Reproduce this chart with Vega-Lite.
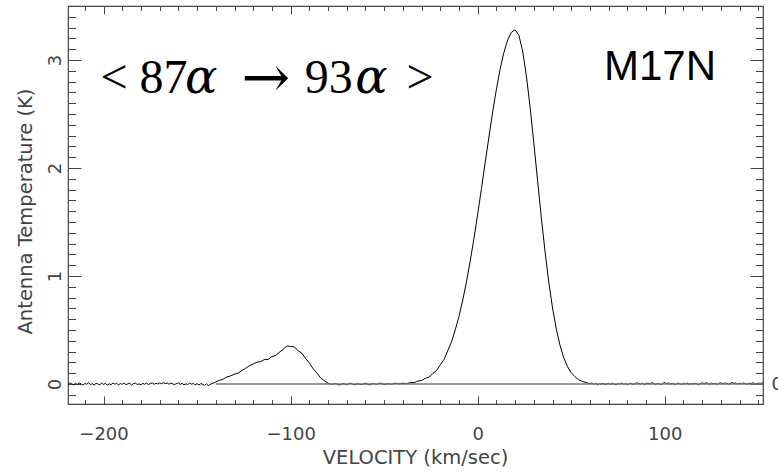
{
  "$schema": "https://vega.github.io/schema/vega-lite/v6.json",
  "autosize": "none",
  "width": 695,
  "height": 398,
  "padding": {"left": 68, "top": 6, "right": 15, "bottom": 68},
  "background": "white",
  "config": {
    "view": {"stroke": "#444", "strokeWidth": 1.2},
    "axis": {
      "domain": false,
      "grid": false,
      "tickColor": "#444",
      "tickWidth": 1,
      "labelFont": "DejaVu Sans",
      "titleFont": "DejaVu Sans",
      "labelColor": "#444",
      "titleColor": "#444",
      "labelFontSize": 18,
      "titleFontSize": 19.5,
      "titleFontWeight": "normal"
    }
  },
  "datasets": {
    "spectrum": [
      {"v": -220, "t": 0.004}, {"v": -219, "t": -0.006}, {"v": -218, "t": 0.010}, {"v": -217, "t": 0.002}, {"v": -216, "t": -0.008},
      {"v": -215, "t": 0.006}, {"v": -214, "t": -0.003}, {"v": -213, "t": 0.009}, {"v": -212, "t": 0.001}, {"v": -211, "t": -0.010},
      {"v": -210, "t": 0.005}, {"v": -209, "t": -0.002}, {"v": -208, "t": 0.011}, {"v": -207, "t": -0.005}, {"v": -206, "t": 0.003},
      {"v": -205, "t": -0.009}, {"v": -204, "t": 0.006}, {"v": -203, "t": 0.000}, {"v": -202, "t": -0.007}, {"v": -201, "t": 0.008},
      {"v": -200, "t": -0.004}, {"v": -199, "t": 0.007}, {"v": -198, "t": -0.011}, {"v": -197, "t": 0.002}, {"v": -196, "t": -0.006},
      {"v": -195, "t": 0.009}, {"v": -194, "t": -0.001}, {"v": -193, "t": 0.005}, {"v": -192, "t": -0.008}, {"v": -191, "t": 0.004},
      {"v": -190, "t": -0.003}, {"v": -189, "t": 0.010}, {"v": -188, "t": -0.006}, {"v": -187, "t": 0.002}, {"v": -186, "t": 0.007},
      {"v": -185, "t": -0.009}, {"v": -184, "t": 0.003}, {"v": -183, "t": 0.008}, {"v": -182, "t": -0.004}, {"v": -181, "t": 0.001},
      {"v": -180, "t": -0.007}, {"v": -179, "t": 0.006}, {"v": -178, "t": -0.002}, {"v": -177, "t": 0.009}, {"v": -176, "t": -0.005},
      {"v": -175, "t": 0.004}, {"v": -174, "t": 0.011}, {"v": -173, "t": -0.003}, {"v": -172, "t": 0.007}, {"v": -171, "t": 0.000},
      {"v": -170, "t": 0.010}, {"v": -169, "t": 0.003}, {"v": -168, "t": 0.012}, {"v": -167, "t": 0.004}, {"v": -166, "t": 0.009},
      {"v": -165, "t": -0.002}, {"v": -164, "t": 0.008}, {"v": -163, "t": 0.001}, {"v": -162, "t": -0.006}, {"v": -161, "t": 0.005},
      {"v": -160, "t": 0.010}, {"v": -159, "t": -0.003}, {"v": -158, "t": 0.006}, {"v": -157, "t": -0.007}, {"v": -156, "t": 0.002},
      {"v": -155, "t": -0.004}, {"v": -154, "t": 0.008}, {"v": -153, "t": -0.001}, {"v": -152, "t": 0.005}, {"v": -151, "t": -0.006},
      {"v": -150, "t": 0.003}, {"v": -149, "t": -0.009}, {"v": -148, "t": 0.004}, {"v": -147, "t": -0.002}, {"v": -146, "t": -0.012},
      {"v": -145, "t": 0.001}, {"v": -144, "t": -0.014}, {"v": -143, "t": -0.004}, {"v": -142, "t": 0.006}, {"v": -141, "t": 0.010},
      {"v": -140, "t": 0.020}, {"v": -138, "t": 0.034}, {"v": -136, "t": 0.046}, {"v": -134, "t": 0.066}, {"v": -132, "t": 0.076},
      {"v": -130, "t": 0.092}, {"v": -128, "t": 0.101}, {"v": -126, "t": 0.126}, {"v": -124, "t": 0.146}, {"v": -122, "t": 0.170},
      {"v": -120, "t": 0.186}, {"v": -118, "t": 0.202}, {"v": -116, "t": 0.207}, {"v": -114, "t": 0.226}, {"v": -112, "t": 0.228},
      {"v": -110, "t": 0.254}, {"v": -108, "t": 0.264}, {"v": -106, "t": 0.294}, {"v": -104, "t": 0.321}, {"v": -102, "t": 0.352},
      {"v": -100, "t": 0.348}, {"v": -98, "t": 0.343}, {"v": -96, "t": 0.308}, {"v": -94, "t": 0.285}, {"v": -92, "t": 0.236},
      {"v": -90, "t": 0.195}, {"v": -88, "t": 0.142}, {"v": -86, "t": 0.103}, {"v": -84, "t": 0.057}, {"v": -82, "t": 0.030},
      {"v": -80, "t": 0.008}, {"v": -78, "t": -0.004}, {"v": -76, "t": 0.005}, {"v": -74, "t": -0.009}, {"v": -72, "t": 0.004},
      {"v": -70, "t": -0.006}, {"v": -68, "t": 0.008}, {"v": -66, "t": -0.007}, {"v": -64, "t": 0.002}, {"v": -62, "t": -0.005},
      {"v": -60, "t": 0.007}, {"v": -58, "t": -0.008}, {"v": -56, "t": 0.004}, {"v": -54, "t": -0.003}, {"v": -52, "t": 0.009},
      {"v": -50, "t": -0.005}, {"v": -48, "t": 0.003}, {"v": -46, "t": -0.002}, {"v": -44, "t": 0.008}, {"v": -42, "t": 0.001},
      {"v": -40, "t": 0.008}, {"v": -38, "t": 0.002}, {"v": -36, "t": 0.014}, {"v": -34, "t": 0.013}, {"v": -32, "t": 0.027},
      {"v": -30, "t": 0.032}, {"v": -28, "t": 0.053}, {"v": -26, "t": 0.063}, {"v": -24, "t": 0.098}, {"v": -22, "t": 0.124},
      {"v": -20, "t": 0.178}, {"v": -18, "t": 0.227}, {"v": -16, "t": 0.308}, {"v": -14, "t": 0.390}, {"v": -12, "t": 0.502},
      {"v": -10, "t": 0.626}, {"v": -8, "t": 0.778}, {"v": -6, "t": 0.947}, {"v": -4, "t": 1.139}, {"v": -2, "t": 1.348},
      {"v": 0, "t": 1.573}, {"v": 2, "t": 1.809}, {"v": 4, "t": 2.050}, {"v": 6, "t": 2.288}, {"v": 8, "t": 2.518},
      {"v": 10, "t": 2.730}, {"v": 12, "t": 2.916}, {"v": 14, "t": 3.070}, {"v": 16, "t": 3.185}, {"v": 18, "t": 3.256},
      {"v": 20, "t": 3.280}, {"v": 22, "t": 3.230}, {"v": 24, "t": 3.084}, {"v": 26, "t": 2.856}, {"v": 28, "t": 2.564},
      {"v": 30, "t": 2.232}, {"v": 32, "t": 1.885}, {"v": 34, "t": 1.543}, {"v": 36, "t": 1.225}, {"v": 38, "t": 0.943},
      {"v": 40, "t": 0.704}, {"v": 42, "t": 0.510}, {"v": 44, "t": 0.358}, {"v": 46, "t": 0.243}, {"v": 48, "t": 0.161},
      {"v": 50, "t": 0.104}, {"v": 52, "t": 0.068}, {"v": 54, "t": 0.038}, {"v": 56, "t": 0.024}, {"v": 58, "t": 0.014},
      {"v": 60, "t": 0.002}, {"v": 61, "t": 0.008}, {"v": 62, "t": -0.004}, {"v": 63, "t": 0.006}, {"v": 64, "t": -0.007},
      {"v": 65, "t": 0.003}, {"v": 66, "t": -0.002}, {"v": 67, "t": 0.009}, {"v": 68, "t": -0.008}, {"v": 69, "t": 0.002},
      {"v": 70, "t": 0.005}, {"v": 71, "t": -0.004}, {"v": 72, "t": 0.008}, {"v": 73, "t": -0.001}, {"v": 74, "t": -0.006},
      {"v": 75, "t": 0.004}, {"v": 76, "t": 0.000}, {"v": 77, "t": 0.010}, {"v": 78, "t": -0.003}, {"v": 79, "t": 0.006},
      {"v": 80, "t": -0.007}, {"v": 81, "t": 0.003}, {"v": 82, "t": 0.007}, {"v": 83, "t": -0.004}, {"v": 84, "t": 0.002},
      {"v": 85, "t": 0.011}, {"v": 86, "t": 0.004}, {"v": 87, "t": -0.002}, {"v": 88, "t": 0.009}, {"v": 89, "t": -0.005},
      {"v": 90, "t": 0.003}, {"v": 91, "t": 0.008}, {"v": 92, "t": -0.001}, {"v": 93, "t": 0.012}, {"v": 94, "t": 0.006},
      {"v": 95, "t": -0.003}, {"v": 96, "t": 0.005}, {"v": 97, "t": 0.001}, {"v": 98, "t": -0.006}, {"v": 99, "t": 0.007},
      {"v": 100, "t": 0.013}, {"v": 101, "t": 0.004}, {"v": 102, "t": 0.010}, {"v": 103, "t": -0.002}, {"v": 104, "t": 0.006},
      {"v": 105, "t": 0.000}, {"v": 106, "t": -0.005}, {"v": 107, "t": 0.008}, {"v": 108, "t": 0.003}, {"v": 109, "t": -0.004},
      {"v": 110, "t": 0.006}, {"v": 111, "t": 0.001}, {"v": 112, "t": 0.009}, {"v": 113, "t": -0.003}, {"v": 114, "t": 0.005},
      {"v": 115, "t": -0.001}, {"v": 116, "t": 0.007}, {"v": 117, "t": 0.002}, {"v": 118, "t": -0.006}, {"v": 119, "t": 0.004},
      {"v": 120, "t": 0.010}, {"v": 121, "t": 0.003}, {"v": 122, "t": 0.012}, {"v": 123, "t": 0.005}, {"v": 124, "t": -0.002},
      {"v": 125, "t": 0.008}, {"v": 126, "t": 0.001}, {"v": 127, "t": 0.006}, {"v": 128, "t": -0.004}, {"v": 129, "t": 0.007},
      {"v": 130, "t": 0.011}, {"v": 131, "t": 0.002}, {"v": 132, "t": 0.009}, {"v": 133, "t": 0.004}, {"v": 134, "t": -0.003},
      {"v": 135, "t": 0.006}, {"v": 136, "t": 0.013}, {"v": 137, "t": 0.005}, {"v": 138, "t": 0.010}, {"v": 139, "t": -0.001},
      {"v": 140, "t": 0.007}, {"v": 141, "t": 0.002}, {"v": 142, "t": 0.009}, {"v": 143, "t": 0.004}, {"v": 144, "t": -0.002},
      {"v": 145, "t": 0.008}, {"v": 146, "t": 0.003}, {"v": 147, "t": 0.011}, {"v": 148, "t": 0.005}, {"v": 149, "t": 0.000},
      {"v": 150, "t": 0.009}, {"v": 151, "t": 0.004}, {"v": 152, "t": 0.010}, {"v": 153, "t": 0.006}, {"v": 154, "t": 0.003}
    ],
    "baseline": [{"start": -140, "end": 153, "level": 0}],
    "roman": [
      {"label": "< 87", "v": -201.6, "t": 2.692},
      {"label": "93", "v": -92.5, "t": 2.692},
      {"label": ">", "v": -38.0, "t": 2.692}
    ],
    "arrow": [{"label": "→", "v": -126.2, "t": 2.657}],
    "greek": [
      {"label": "α", "v": -156.4, "t": 2.692},
      {"label": "α", "v": -65.5, "t": 2.692}
    ],
    "source": [{"label": "M17N", "v": 67.5, "t": 2.815}]
  },
  "layer": [
    {
      "data": {"name": "spectrum"},
      "mark": {"type": "line", "color": "#000", "strokeWidth": 1, "clip": true},
      "encoding": {
        "x": {
          "field": "v", "type": "quantitative",
          "scale": {"domain": [-219, 152.5], "nice": false, "zero": false},
          "axis": {"orient": "bottom", "values": [-200, -100, 0, 100], "tickSize": -8, "labelPadding": 29,
                   "title": "VELOCITY (km/sec)", "titleX": 347, "titleY": 53, "titleBaseline": "middle", "titleAnchor": null}
        },
        "y": {
          "field": "t", "type": "quantitative",
          "scale": {"domain": [-0.185, 3.5], "nice": false, "zero": false},
          "axis": {"orient": "left", "values": [0, 1, 2, 3], "tickSize": -13, "labelAngle": 270, "labelPadding": 17,
                   "title": "Antenna Temperature (K)", "titleX": -43, "titleY": 205, "titleAngle": 270,
                   "titleBaseline": "middle", "titleAlign": "center", "titleAnchor": null}
        }
      }
    },
    {
      "data": {"name": "baseline"},
      "mark": {"type": "rule", "color": "#777", "strokeWidth": 1.5, "clip": true},
      "encoding": {
        "x": {"field": "start", "type": "quantitative",
              "scale": {"domain": [-219, 152.5], "nice": false, "zero": false},
              "axis": {"orient": "bottom", "labels": false, "title": null, "tickSize": -4.5,
                       "values": [-210,-190,-180,-170,-160,-150,-140,-130,-120,-110,-90,-80,-70,-60,-50,-40,-30,-20,-10,10,20,30,40,50,60,70,80,90,110,120,130,140,150]}},
        "x2": {"field": "end"},
        "y": {"field": "level", "type": "quantitative",
              "scale": {"domain": [-0.185, 3.5], "nice": false, "zero": false},
              "axis": {"orient": "left", "labels": false, "title": null, "tickSize": -7.5,
                       "values": [-0.1,0.1,0.2,0.3,0.4,0.5,0.6,0.7,0.8,0.9,1.1,1.2,1.3,1.4,1.5,1.6,1.7,1.8,1.9,2.1,2.2,2.3,2.4,2.5,2.6,2.7,2.8,2.9,3.1,3.2,3.3,3.4]}}
      }
    },
    {
      "data": {"name": "roman"},
      "mark": {"type": "text", "font": "Liberation Serif", "fontSize": 48, "align": "left", "baseline": "alphabetic", "color": "#000"},
      "encoding": {
        "text": {"field": "label"},
        "x": {"field": "v", "type": "quantitative",
              "scale": {"domain": [-219, 152.5], "nice": false, "zero": false},
              "axis": {"orient": "top", "labels": false, "title": null, "tickSize": -8, "values": [-200, -100, 0, 100]}},
        "y": {"field": "t", "type": "quantitative",
              "scale": {"domain": [-0.185, 3.5], "nice": false, "zero": false},
              "axis": {"orient": "right", "title": null, "tickSize": -13, "values": [0, 1, 2, 3], "labelPadding": 21,
                       "labelExpr": "datum.value === 0 ? '0' : ''"}}
      }
    },
    {
      "data": {"name": "greek"},
      "mark": {"type": "text", "font": "DejaVu Serif", "fontStyle": "italic", "fontSize": 48, "align": "left", "baseline": "alphabetic", "color": "#000"},
      "encoding": {
        "text": {"field": "label"},
        "x": {"field": "v", "type": "quantitative",
              "scale": {"domain": [-219, 152.5], "nice": false, "zero": false},
              "axis": {"orient": "top", "labels": false, "title": null, "tickSize": -4.5,
                       "values": [-210,-190,-180,-170,-160,-150,-140,-130,-120,-110,-90,-80,-70,-60,-50,-40,-30,-20,-10,10,20,30,40,50,60,70,80,90,110,120,130,140,150]}},
        "y": {"field": "t", "type": "quantitative",
              "scale": {"domain": [-0.185, 3.5], "nice": false, "zero": false},
              "axis": {"orient": "right", "labels": false, "title": null, "tickSize": -7.5,
                       "values": [-0.1,0.1,0.2,0.3,0.4,0.5,0.6,0.7,0.8,0.9,1.1,1.2,1.3,1.4,1.5,1.6,1.7,1.8,1.9,2.1,2.2,2.3,2.4,2.5,2.6,2.7,2.8,2.9,3.1,3.2,3.3,3.4]}}
      }
    },
    {
      "data": {"name": "arrow"},
      "mark": {"type": "text", "font": "DejaVu Serif", "fontSize": 58, "align": "left", "baseline": "alphabetic", "color": "#000"},
      "encoding": {
        "text": {"field": "label"},
        "x": {"field": "v", "type": "quantitative", "scale": {"domain": [-219, 152.5], "nice": false, "zero": false}, "axis": null},
        "y": {"field": "t", "type": "quantitative", "scale": {"domain": [-0.185, 3.5], "nice": false, "zero": false}, "axis": null}
      }
    },
    {
      "data": {"name": "source"},
      "mark": {"type": "text", "font": "Liberation Sans", "fontSize": 42, "align": "left", "baseline": "alphabetic", "color": "#000"},
      "encoding": {
        "text": {"field": "label"},
        "x": {"field": "v", "type": "quantitative", "scale": {"domain": [-219, 152.5], "nice": false, "zero": false}, "axis": null},
        "y": {"field": "t", "type": "quantitative", "scale": {"domain": [-0.185, 3.5], "nice": false, "zero": false}, "axis": null}
      }
    }
  ],
  "resolve": {"axis": {"x": "independent", "y": "independent"}}
}
